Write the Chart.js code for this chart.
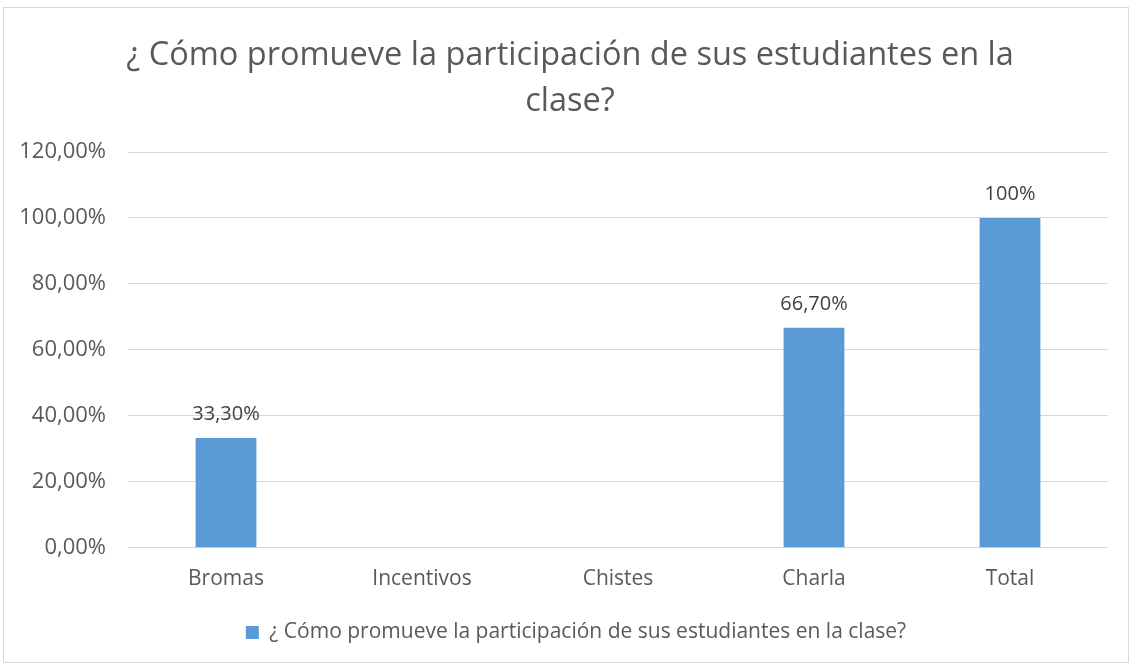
<!DOCTYPE html>
<html>
<head>
<meta charset="utf-8">
<script src="https://cdn.jsdelivr.net/npm/chart.js@4"></script>
<style>
  html, body { margin: 0; padding: 0; background: #fff; }
  #frame { position: absolute; left: 3px; top: 7px; width: 1124px; height: 654px; border: 1px solid #d9d9d9; }
  #wrap { position: absolute; left: 0; top: 0; width: 1132px; height: 666px; }
</style>
</head>
<body>
<div id="frame"></div>
<div id="wrap"><canvas id="chart"></canvas></div>
<script>
var categories = ["Bromas", "Incentivos", "Chistes", "Charla", "Total"];
var values = [0.333, 0, 0, 0.667, 1];
var valueLabels = ["33,30%", "", "", "66,70%", "100%"];
var seriesName = "¿ Cómo promueve la participación de sus estudiantes en la clase?";
var titleLines = ["¿ Cómo promueve la participación de sus estudiantes en la", "clase?"];

var fontFamily = "'Open Sans', 'Liberation Sans', sans-serif";
var textColor = '#595959';

// write the value labels over each bar
var barLabels = {
    id: 'barLabels',
    afterDatasetsDraw: function (chart) {
        var ctx = chart.ctx;
        var meta = chart.getDatasetMeta(0);
        ctx.save();
        ctx.font = '20px ' + fontFamily;
        ctx.fillStyle = '#404040';
        ctx.textAlign = 'center';
        ctx.textBaseline = 'middle';
        meta.data.forEach(function (bar, i) {
            if (!valueLabels[i]) return;
            ctx.fillText(valueLabels[i], bar.x, bar.y - 24);
        });
        ctx.restore();
    }
};

// Excel centres title and legend over the plot, not over the whole canvas
var centreBlocks = {
    id: 'centreBlocks',
    afterLayout: function (chart) {
        if (chart.titleBlock) { chart.titleBlock.left += 16; chart.titleBlock.right += 16; }
        if (chart.legend) { chart.legend.left += 22; chart.legend.right += 22; }
    }
};

new Chart(document.getElementById('chart'), {
    type: 'bar',
    data: {
        labels: categories,
        datasets: [{
            label: seriesName,
            data: values,
            backgroundColor: '#5b9bd5',
            borderWidth: 0,
            categoryPercentage: 1,
            barPercentage: 0.31
        }]
    },
    options: {
        responsive: true,
        maintainAspectRatio: false,
        animation: false,
        layout: { padding: { left: 0, right: 24, top: 10, bottom: 13 } },
        plugins: {
            title: {
                display: true,
                text: titleLines,
                color: textColor,
                font: { family: fontFamily, size: 32.5, weight: 'normal', lineHeight: 1.4 },
                padding: { top: 23, bottom: 28 }
            },
            legend: {
                position: 'bottom',
                labels: {
                    color: textColor,
                    font: { family: fontFamily, size: 21 },
                    boxWidth: 13,
                    boxHeight: 13,
                    padding: 19
                }
            },
            tooltip: { enabled: false }
        },
        scales: {
            x: {
                grid: { display: false },
                border: { display: false },
                ticks: { color: textColor, font: { family: fontFamily, size: 21 }, padding: 11 }
            },
            y: {
                min: 0,
                max: 1.2,
                afterFit: function (axis) { axis.width = 128; },
                ticks: {
                    stepSize: 0.2,
                    color: textColor,
                    font: { family: fontFamily, size: 22 },
                    padding: 22,
                    callback: function (v) { return (v * 100).toFixed(2).replace('.', ',') + '%'; }
                },
                grid: { color: '#d9d9d9', drawTicks: false },
                border: { display: false }
            }
        }
    },
    plugins: [barLabels, centreBlocks]
});
</script>
</body>
</html>
